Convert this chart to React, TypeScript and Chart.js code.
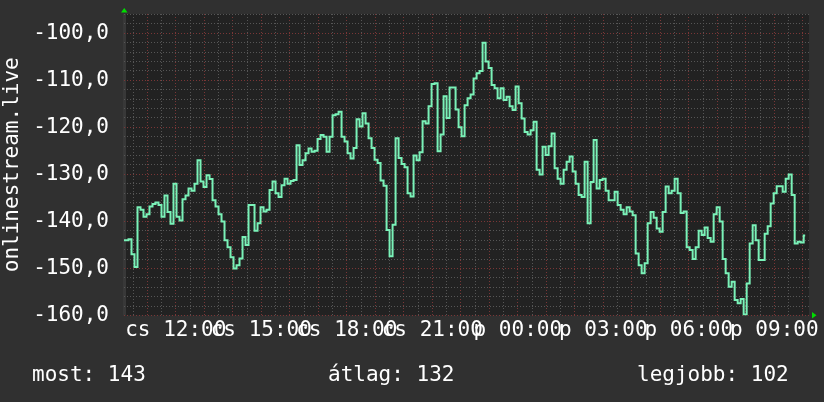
import React, { useEffect, useRef } from 'react';
import { Chart, registerables } from 'chart.js';

Chart.register(...registerables);

const FONT = "'DejaVu Sans Mono', monospace";

// time axis in minutes from 00:00 of the first day
const xMin = 611;
const xMax = 2053;
const sampleStart = 611;
const sampleStep = 6.317;
const yMin = -160;
const yMax = -95.9;

const tickMinutes = [720, 900, 1080, 1260, 1440, 1620, 1800, 1980];
const tickLabels = ['cs 12:00', 'cs 15:00', 'cs 18:00', 'cs 21:00', 'p 00:00', 'p 03:00', 'p 06:00', 'p 09:00'];

const statLabels = ['most: 143', 'átlag: 132', 'legjobb: 102'];
const statLeft = [32, 328, 637];

const yTitle = 'onlinestream.live';

const values = [
  -144, -144, -143.8, -147, -149.7, -137, -137.5, -139, -138.5, -136.8,
  -136.3, -136, -136.5, -139, -134.5, -138, -140.5, -132, -139, -139.8,
  -135.3, -134.5, -133, -133.5, -132, -127, -131.5, -132.7, -130.2, -131,
  -135.5, -136.8, -138.5, -140, -144, -145.5, -147.6, -150, -149.3, -147.9,
  -143.3, -145, -136.5, -136.5, -142, -140.4, -137, -137.9, -137.5, -133.3,
  -131.5, -134, -134.8, -132.3, -130.9, -132, -131.4, -131.2, -123.8, -128,
  -127, -125.5, -124.5, -125.2, -125, -122.5, -121.6, -122, -125.2, -122,
  -117.4, -117.2, -116.7, -122, -123, -125.5, -126.6, -124.4, -118.3, -119.8,
  -117, -119.2, -122.3, -124.4, -126.9, -127.6, -131.3, -132.4, -141.8, -147.4,
  -140.7, -122.3, -126.5, -127.8, -128.5, -134, -134.7, -126, -127, -125.3,
  -118.7, -119.2, -115.5, -110.8, -110.6, -125.1, -121.5, -113.4, -118, -111.5,
  -111.5, -116.2, -120, -121.9, -115.3, -113.8, -113, -109.6, -108.5, -108,
  -102, -106, -107.4, -111, -111.7, -113.8, -111.7, -114.2, -113.5, -115.5,
  -116.3, -111.3, -114.9, -118.1, -121, -121.5, -120.6, -118.8, -129, -130,
  -124.1, -125.9, -124, -121.3, -128.7, -130.9, -132, -129, -127.3, -126.2,
  -129.4, -132, -134.4, -134.8, -127.3, -140.4, -131.6, -122.7, -133, -131.2,
  -130.9, -133.5, -135.5, -135.5, -133.7, -136.5, -137.5, -138.5, -137, -137.9,
  -138.7, -146.8, -149.3, -151, -148.9, -140.4, -138, -139.2, -141.5, -142.2,
  -138, -132.6, -134, -133.5, -130.9, -134, -138.2, -137.9, -145.5, -146.1,
  -148, -145.5, -142, -142.9, -141.3, -143.5, -144.3, -138.5, -137, -140,
  -148, -151, -153.9, -152.8, -156.7, -157.4, -156.5, -159.8, -153.2, -144.7,
  -140.8, -144, -148.2, -148.2, -142.6, -141, -136.2, -134, -132.5, -132.5,
  -133.7, -130.9, -130, -134.4, -144.7, -144.3, -144.5, -143,
];

const OUTER_BG = '#303030';
const PLOT_BG = '#222222';
const GRID_MINOR = '#565656';
const GRID_MAJOR = '#7a3636';
const LINE = '#7af2b8';
const ARROW = '#00dd00';

const bgPlugin = {
  id: 'bg',
  beforeDraw(chart: any) {
    const { ctx, chartArea: a, width, height } = chart;
    ctx.save();
    ctx.fillStyle = OUTER_BG;
    ctx.fillRect(0, 0, width, height);
    ctx.fillStyle = PLOT_BG;
    ctx.fillRect(a.left, a.top, a.right - a.left, a.bottom - a.top);
    ctx.fillStyle = '#383838';
    ctx.fillRect(a.left - 1, a.top, 3, a.bottom - a.top);
    ctx.restore();
  },
  afterDraw(chart: any) {
    const { ctx, chartArea: a } = chart;
    ctx.save();
    ctx.fillStyle = ARROW;
    ctx.beginPath();
    ctx.moveTo(a.left - 3, a.top - 1.5);
    ctx.lineTo(a.left + 3.5, a.top - 1.5);
    ctx.lineTo(a.left + 0.25, a.top - 6);
    ctx.closePath();
    ctx.fill();
    ctx.beginPath();
    ctx.moveTo(a.right + 3, a.bottom - 3.5);
    ctx.lineTo(a.right + 3, a.bottom + 3);
    ctx.lineTo(a.right + 7.5, a.bottom - 0.25);
    ctx.closePath();
    ctx.fill();
    ctx.restore();
  },
};

export default function App() {
  const ref = useRef<HTMLCanvasElement | null>(null);

  useEffect(() => {
    if (!ref.current) return;
    const data = values.map((v, i) => ({ x: sampleStart + i * sampleStep, y: v }));
    const chart = new Chart(ref.current, {
      type: 'line',
      data: {
        datasets: [
          {
            data,
            borderColor: LINE,
            borderWidth: 2,
            pointRadius: 0,
            stepped: 'middle',
            fill: false,
          },
        ],
      },
      options: {
        animation: false,
        responsive: false,
        devicePixelRatio: 1,
        layout: { padding: { left: 0, top: 14, right: 15, bottom: 0 } },
        plugins: { legend: { display: false }, tooltip: { enabled: false } },
        scales: {
          x: {
            type: 'linear',
            min: xMin,
            max: xMax,
            afterBuildTicks: (s: any) => {
              const t: any[] = [];
              for (let m = 630; m < xMax; m += 30) t.push({ value: m });
              s.ticks = t;
            },
            afterFit: (s: any) => {
              s.height = 86.5;
              s.paddingLeft = 0;
              s.paddingRight = 0;
            },
            ticks: {
              autoSkip: false,
              maxRotation: 0,
              minRotation: 0,
              padding: 2,
              color: '#ffffff',
              font: { family: FONT, size: 21 },
              callback: (v: any) => {
                const k = tickMinutes.indexOf(Number(v));
                return k >= 0 ? tickLabels[k] : '';
              },
            },
            grid: {
              drawTicks: false,
              lineWidth: 1,
              color: (c: any) => (c.tick && c.tick.value % 60 === 0 ? GRID_MAJOR : GRID_MINOR),
            },
            border: { display: false, dash: [1, 2] },
          },
          y: {
            type: 'linear',
            min: yMin,
            max: yMax,
            afterBuildTicks: (s: any) => {
              const t: any[] = [];
              for (let v = -160; v <= -96; v += 2) t.push({ value: v });
              s.ticks = t;
            },
            afterFit: (s: any) => {
              s.width = 124;
              s.paddingTop = 0;
              s.paddingBottom = 0;
            },
            ticks: {
              autoSkip: false,
              padding: 15,
              color: '#ffffff',
              font: { family: FONT, size: 21 },
              callback: (v: any) => (Number(v) % 10 === 0 ? Number(v).toFixed(1).replace('.', ',') : ''),
            },
            grid: {
              drawTicks: false,
              lineWidth: 1,
              color: (c: any) => (c.tick && c.tick.value % 10 === 0 ? GRID_MAJOR : GRID_MINOR),
            },
            border: { display: false, dash: [1, 2] },
            title: {
              display: true,
              text: yTitle,
              color: '#ffffff',
              font: { family: FONT, size: 21 },
              padding: 0,
            },
          },
        },
      },
      plugins: [bgPlugin],
    } as any);
    return () => chart.destroy();
  }, []);

  return (
    <div style={{ position: 'absolute', left: 0, top: 0, width: 824, height: 402, background: OUTER_BG }}>
      <canvas ref={ref} width={824} height={402} style={{ display: 'block', width: 824, height: 402 }} />
      {statLabels.map((s, i) => (
        <span
          key={i}
          style={{
            position: 'absolute',
            left: statLeft[i],
            top: 362,
            fontFamily: FONT,
            fontSize: 21,
            color: '#ffffff',
            whiteSpace: 'pre',
            lineHeight: 'normal',
          }}
        >
          {s}
        </span>
      ))}
    </div>
  );
}
